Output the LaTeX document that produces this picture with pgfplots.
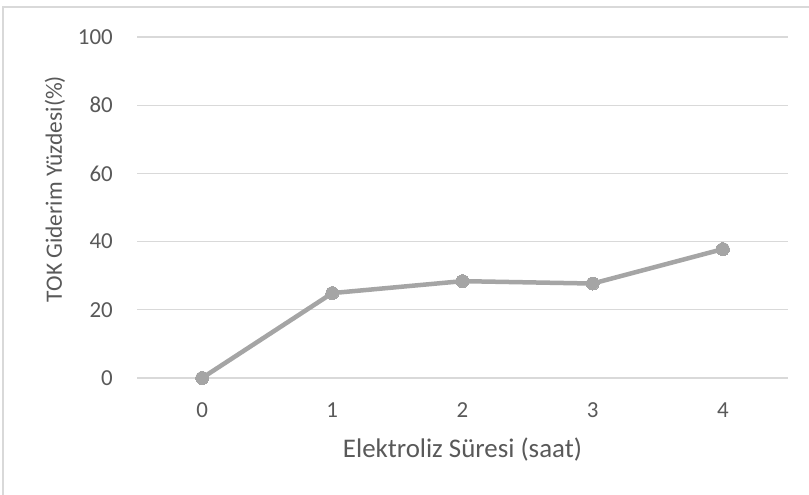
\documentclass[border=0pt]{standalone}
\usepackage{pgfplots}
\pgfplotsset{compat=1.18}
\usepackage{fontspec}
\setmainfont{Carlito}
\definecolor{txtc}{HTML}{595959}
\definecolor{gridc}{HTML}{D9D9D9}
\definecolor{serc}{HTML}{A5A5A5}
\begin{document}
\begin{tikzpicture}[x=1bp,y=1bp]
\useasboundingbox (0,0) rectangle (809,495);
\fill[white] (0,0) rectangle (809,495);
\draw[gridc,line width=1.2bp] (3,0) -- (3,488) -- (809,488);
\begin{axis}[
  at={(137bp,117bp)}, anchor=south west,
  scale only axis, width=651bp, height=341bp,
  xmin=-0.5, xmax=4.5, ymin=0, ymax=100,
  xtick={0,1,2,3,4}, ytick={0,20,40,60,80,100},
  axis line style={draw=none},
  major tick length=0pt,
  ymajorgrids, xmajorgrids=false, grid style={gridc,line width=1.2bp},
  tick label style={font=\fontsize{23}{26}\selectfont, text=txtc, inner sep=0pt},
  /pgf/number format/assume math mode=true,
  yticklabel style={anchor=east, xshift=-24bp},
  xticklabel style={anchor=center, yshift=-32bp},
  xlabel={Elektroliz Süresi (saat)},
  ylabel={TOK Giderim Yüzdesi(\%)},
  every axis x label/.style={at={(axis description cs:0.5,-0.211)}, anchor=center, font=\fontsize{27}{30}\selectfont, text=txtc, inner sep=0pt},
  every axis y label/.style={at={(axis description cs:0,0.554)}, xshift=-82bp, rotate=90, anchor=center, font=\fontsize{23.5}{26}\selectfont, text=txtc, inner sep=0pt},
  clip=false,
]
\addplot[serc, line width=4.5bp, mark=*, mark size=6.5bp, mark options={fill=serc,draw=serc,line width=0pt}]
  coordinates {(0,0) (1,24.9) (2,28.4) (3,27.7) (4,37.8)};
\end{axis}
\end{tikzpicture}
\end{document}
